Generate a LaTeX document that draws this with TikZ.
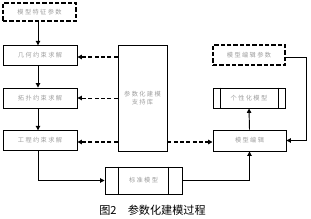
\documentclass[tikz,border=0pt]{standalone}
\usepackage{fontspec}
\newfontfamily\cjk{Noto Sans CJK SC}
\newfontfamily\cjkS[LetterSpace=22]{Noto Sans CJK SC}
\usetikzlibrary{arrows.meta,calc}
\tikzset{
  pbox/.style={draw,line width=0.8pt,minimum width=22.2mm,minimum height=6mm,inner sep=0pt,
    font=\cjkS\fontsize{5.3}{7}\selectfont,text=black!38},
  pparam/.style={pbox,line width=1.4pt,dash pattern=on 1.3mm off 0.6mm},
  parr/.style={-{Triangle[length=1.3mm,width=1.3mm]},line width=0.8pt},
  pdash/.style={parr,line width=1.5pt,dash pattern=on 1.2mm off 0.7mm},
  pdashS/.style={parr,dash pattern=on 1.2mm off 0.7mm},
}
\begin{document}
\begin{tikzpicture}[x=0.3mm,y=-0.3mm]
\useasboundingbox (0,0) rectangle (311,219);
% ---- left column: constraint solving
\node[pparam,minimum width=21.9mm,minimum height=5.4mm] (feat) at (39.5,12) {模型特征参数};
\node[pbox,minimum height=5.85mm] (geo) at (40,55.5) {几何约束求解};
\node[pbox] (topo) at (40,98) {拓扑约束求解};
\node[pbox,minimum height=5.85mm] (eng) at (40,140.5) {工程约束求解};
% ---- support library in the middle
\node[pbox,minimum width=14.7mm,minimum height=31.8mm,align=center] (lib) at (142.5,98) {参数化建模\\支持库};
\node[pbox,minimum width=23.1mm,minimum height=8.1mm] (std) at (143.5,180.5) {标准模型};
\draw[line width=0.8pt] ([xshift=4.1mm]std.north west) -- ([xshift=4.1mm]std.south west);
\draw[line width=0.8pt] ([xshift=-4.3mm]std.north east) -- ([xshift=-4.3mm]std.south east);
% ---- right column: model editing
\node[pparam,minimum width=21.6mm] (eparam) at (249,55) {模型编辑参数};
\node[pbox,minimum width=21.6mm] (pers) at (249,98) {个性化模型};
\draw[line width=0.8pt] ([xshift=2.4mm]pers.north west) -- ([xshift=2.4mm]pers.south west);
\draw[line width=0.8pt] ([xshift=-2.2mm]pers.north east) -- ([xshift=-2.2mm]pers.south east);
\node[pbox,minimum width=21.9mm,minimum height=6.3mm] (edit) at (249.5,140.5) {模型编辑};
% ---- connectors
\draw[parr] (feat.south -| 38,0) -- (geo.north -| 38,0);
\draw[parr] (geo.south -| 38,0) -- (topo.north -| 38,0);
\draw[parr] (topo.south -| 38,0) -- (eng.north -| 38,0);
\draw[pdash] (lib.west |- 0,57) -- (geo.east |- 0,57);
\draw[pdashS] (lib.west |- topo) -- (topo.east);
\draw[pdash] (lib.west |- 0,142) -- (eng.east |- 0,142);
\draw[pdash] (lib.east |- 0,142) -- (edit.west |- 0,142);
\draw[parr] (eng.south -| 38,0) |- (std.west);
\draw[parr] (std.east) -| (edit.south);
\draw[parr] (edit.north) -- (pers.south);
\coordinate (rt) at (306,57);
\draw[parr] (eparam.east |- rt) -- (rt) |- (edit.east);
% ---- caption
\node[font=\cjk\fontsize{9.5}{11}\selectfont] (cap) at (152.5,210) {图2\quad 参数化建模过程};
\end{tikzpicture}
\end{document}
